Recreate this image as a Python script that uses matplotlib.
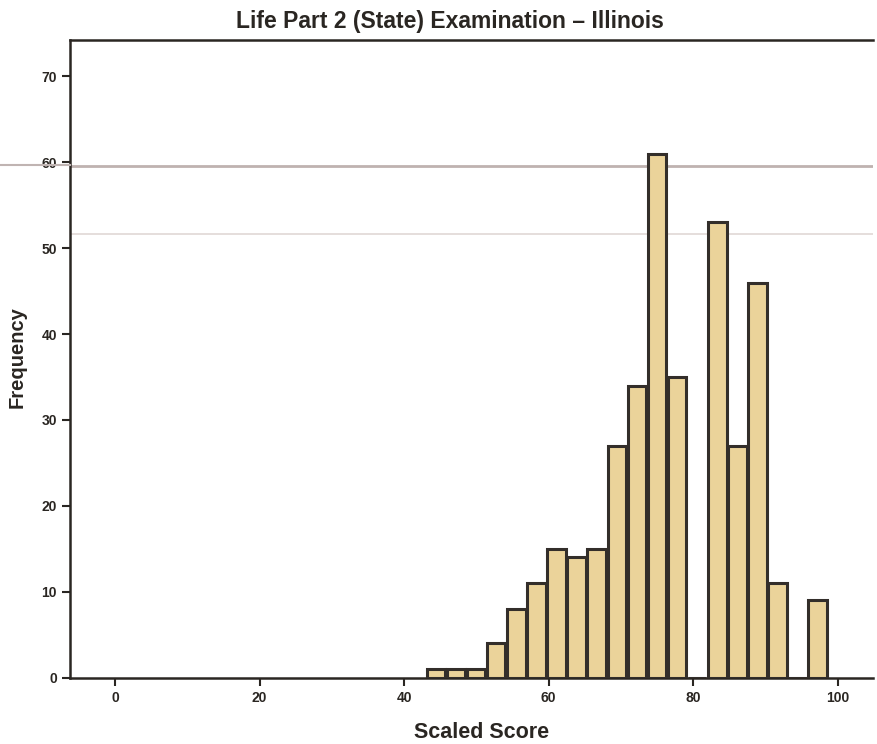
import matplotlib
matplotlib.use("Agg")
import matplotlib.pyplot as plt
import numpy as np

plt.rcParams['font.family'] = ['Liberation Sans', 'DejaVu Sans']

title = "Life Part 2 (State) Examination \u2013 Illinois"
x_label = "Scaled Score"
y_label = "Frequency"

bin_start = 43.0
bin_width = 2.78
counts = [1, 1, 1, 4, 8, 11, 15, 14, 15, 27, 34, 61, 35, 0, 53, 27, 46, 11, 0, 9]
x_ticks = [0, 20, 40, 60, 80, 100]
y_ticks = [0, 10, 20, 30, 40, 50, 60, 70]

edges = bin_start + bin_width * np.arange(len(counts))

fig = plt.figure(figsize=(8.77, 7.44), dpi=100)
ax = fig.add_axes([0.080, 0.089, 0.915, 0.857])

ax.bar(edges + bin_width * 0.04, counts, width=bin_width * 0.92, align='edge',
       color='#EBD39A', edgecolor='#332e2a', linewidth=2.2, zorder=3)

# faint horizontal scan lines
ax.axhline(59.5, color='#b8aaa8', linewidth=2.0, zorder=2.5, alpha=0.9)
ax.axhline(51.6, color='#e0d8d6', linewidth=1.2, zorder=2)
fig.add_artist(plt.Line2D([0, 0.08], [1 - 165/744, 1 - 165/744], color='#c0b4b2', linewidth=1.5))

ax.set_xlim(-6.2, 104.8)
ax.set_ylim(0, 74.2)
ax.set_xticks(x_ticks)
ax.set_yticks(y_ticks)
ax.tick_params(axis='both', direction='out', length=6, width=1.5, colors='#2a2622',
               labelsize=10)
for lab in ax.get_xticklabels() + ax.get_yticklabels():
    lab.set_fontweight('bold')

for s in ['left', 'bottom', 'top']:
    ax.spines[s].set_linewidth(1.8)
    ax.spines[s].set_color('#2a2622')
ax.spines['right'].set_visible(False)

fig.text(450/877, 1 - 28/744, title, fontsize=16.5, fontweight='bold', color='#2a2622',
         ha='center', va='baseline')
fig.text(482/877, 1 - 738/744, x_label, fontsize=15.5, fontweight='bold', color='#2a2622',
         ha='center', va='baseline')
fig.text(17/877, 1 - 357/744, y_label, fontsize=14.5, fontweight='bold', color='#2a2622',
         ha='center', va='center', rotation=90)

fig.savefig("out.png", dpi=100)
